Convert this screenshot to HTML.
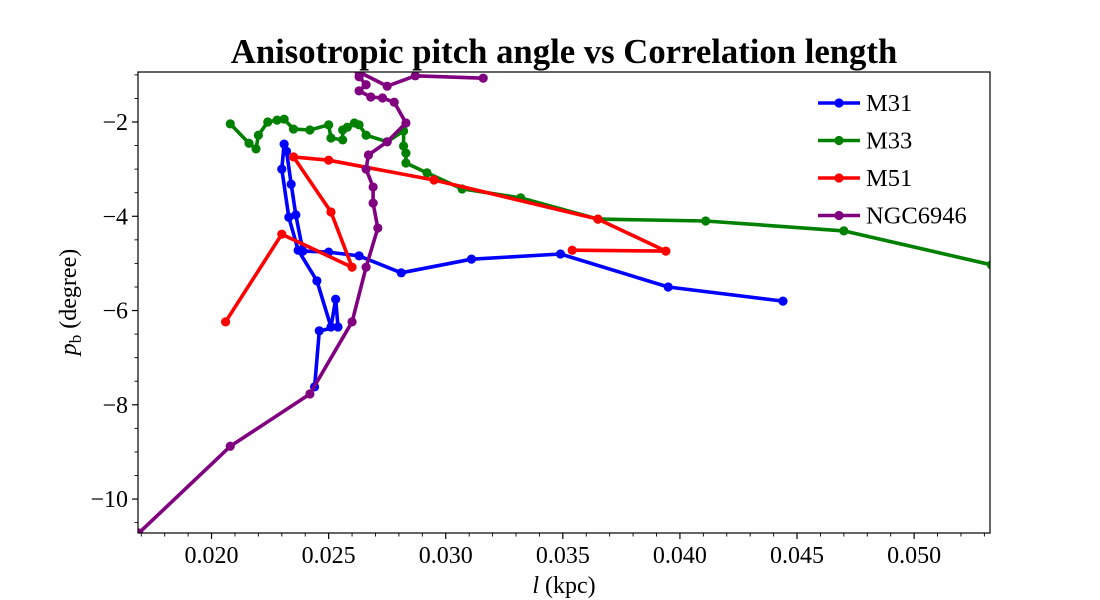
<!DOCTYPE html>
<html><head><meta charset="utf-8"><style>
html,body{margin:0;padding:0;background:#fff}
svg{display:block;font-family:"Liberation Serif",serif}
</style></head><body>
<svg id="chart" width="1100" height="600" viewBox="0 0 1100 600">
<defs><clipPath id="clip"><rect x="138" y="72" width="852" height="461"/></clipPath></defs>
<text x="564" y="63" text-anchor="middle" font-size="34.7" font-weight="bold">Anisotropic pitch angle vs Correlation length</text>
<g id="axes"></g>
<g id="series" clip-path="url(#clip)"></g>
<rect x="138" y="72" width="852" height="461" fill="none" stroke="#000" stroke-width="1.2"/>
<text x="564" y="593" text-anchor="middle" font-size="24"><tspan font-style="italic">l</tspan> (kpc)</text>
<text transform="translate(76,302) rotate(-90)" text-anchor="middle" font-size="24"><tspan font-style="italic">p</tspan><tspan font-size="17" dy="5">b</tspan><tspan dy="-5"> (degree)</tspan></text>
<g id="legend"></g>
</svg>
<script>
const names = ["M31","M33","M51","NGC6946"];
const colors = ["#0000ff","#008000","#ff0000","#800080"];
const m31X = [0.0444,0.0395,0.0349,0.0311,0.0281,0.0263,0.0250,0.0239,0.0236,0.0234,0.0232,0.0231,0.0230,0.0233,0.0237,0.0245,0.0251,0.0253,0.0254,0.0246,0.0244];
const m31Y = [-5.80,-5.50,-4.80,-4.91,-5.20,-4.84,-4.76,-4.74,-3.97,-3.32,-2.62,-2.47,-3.00,-4.02,-4.72,-5.37,-6.35,-5.76,-6.35,-6.43,-7.62];
const m33X = [0.0533,0.0470,0.0411,0.0365,0.0332,0.0307,0.0292,0.0283,0.0283,0.0282,0.0282,0.0275,0.0266,0.0263,0.0261,0.0258,0.0256,0.0256,0.0251,0.0250,0.0242,0.0235,0.0231,0.0228,0.0224,0.0220,0.0219,0.0216,0.0208];
const m33Y = [-5.03,-4.31,-4.10,-4.06,-3.61,-3.42,-3.08,-2.87,-2.66,-2.51,-2.19,-2.42,-2.28,-2.06,-2.02,-2.11,-2.17,-2.38,-2.34,-2.06,-2.17,-2.15,-1.94,-1.96,-2.00,-2.28,-2.57,-2.45,-2.04];
const m51X = [0.0206,0.0230,0.0260,0.0251,0.0235,0.0250,0.0295,0.0365,0.0394,0.0354];
const m51Y = [-6.24,-4.38,-5.08,-3.91,-2.74,-2.81,-3.23,-4.06,-4.74,-4.72];
const ngcX = [0.0169,0.0208,0.0242,0.0260,0.0266,0.0271,0.0269,0.0269,0.0266,0.0267,0.0275,0.0283,0.0278,0.0273,0.0268,0.0263,0.0266,0.0263,0.0263,0.0275,0.0287,0.0316];
const ngcY = [-10.72,-8.88,-7.77,-6.24,-5.08,-4.25,-3.72,-3.38,-3.00,-2.70,-2.42,-2.02,-1.58,-1.49,-1.47,-1.34,-1.21,-1.04,-0.94,-1.24,-1.02,-1.07];
const xTicks = [0.020,0.025,0.030,0.035,0.040,0.045,0.050];
const xTickLabels = ["0.020","0.025","0.030","0.035","0.040","0.045","0.050"];
const yTicks = [-2,-4,-6,-8,-10];
const yTickLabels = ["\u22122","\u22124","\u22126","\u22128","\u221210"];

const NS="http://www.w3.org/2000/svg";
const X0=0.01686, X1=0.05324, PX0=138, PX1=990;
const Y0=-0.939, Y1=-10.72, PY0=72, PY1=533;
function xs(v){return PX0+(v-X0)/(X1-X0)*(PX1-PX0);}
function ys(v){return PY0+(v-Y0)/(Y1-Y0)*(PY1-PY0);}
function mk(tag,attrs,parent){const e=document.createElementNS(NS,tag);for(const k in attrs)e.setAttribute(k,attrs[k]);parent.appendChild(e);return e;}

const axes=document.getElementById('axes');
xTicks.forEach((t,i)=>{
  const x=xs(t);
  const tk=mk('line',{x1:x,x2:x,y1:533,y2:539,stroke:'#000','stroke-width':1.2},axes);
  
  
  const lb=mk('text',{x:x,y:563,'text-anchor':'middle','font-size':24},axes);
  lb.textContent=xTickLabels[i];
  
  
});
for(let v=0.017; v<0.0533; v+=0.001){
  const r=Math.round(v*1000);
  if(r%5===0) continue;
  const x=xs(r/1000);
  const m=mk('line',{x1:x,x2:x,y1:533,y2:536.5,stroke:'#000','stroke-width':0.9},axes);
  
  
}
yTicks.forEach((t,i)=>{
  const y=ys(t);
  const tk=mk('line',{x1:132,x2:138,y1:y,y2:y,stroke:'#000','stroke-width':1.2},axes);
  
  
  const lb=mk('text',{x:128,y:y+8,'text-anchor':'end','font-size':24},axes);
  lb.textContent=yTickLabels[i];
  
  
});
for(let v=-1; v>=-10.5; v-=0.5){
  if(Number.isInteger(v) && v%2===0) continue;
  const y=ys(v);
  const m=mk('line',{x1:134.5,x2:138,y1:y,y2:y,stroke:'#000','stroke-width':0.9},axes);
  
  
}

const series=document.getElementById('series');
const data=[[m31X,m31Y],[m33X,m33Y],[m51X,m51Y],[ngcX,ngcY]];
data.forEach((d,s)=>{
  const g=mk('g',{},series);
  
  
  const pts=d[0].map((x,i)=>xs(x).toFixed(1)+','+ys(d[1][i]).toFixed(1)).join(' ');
  const pl=mk('polyline',{points:pts,fill:'none',stroke:colors[s],'stroke-width':3.6,'stroke-linejoin':'round'},g);
  
  
  d[0].forEach((x,i)=>{
    const c=mk('circle',{cx:xs(x),cy:ys(d[1][i]),r:4.6,fill:colors[s]},g);
    
    
  });
});

const legend=document.getElementById('legend');
names.forEach((n,i)=>{
  const y=103+i*37.5;
  const g=mk('g',{},legend);
  
  
  mk('line',{x1:818,x2:860,y1:y,y2:y,stroke:colors[i],'stroke-width':3.6},g);
  mk('circle',{cx:839,cy:y,r:4.6,fill:colors[i]},g);
  const t=mk('text',{x:866,y:y+8,'font-size':24.5},g);
  t.textContent=n;
});
</script>
</body></html>
